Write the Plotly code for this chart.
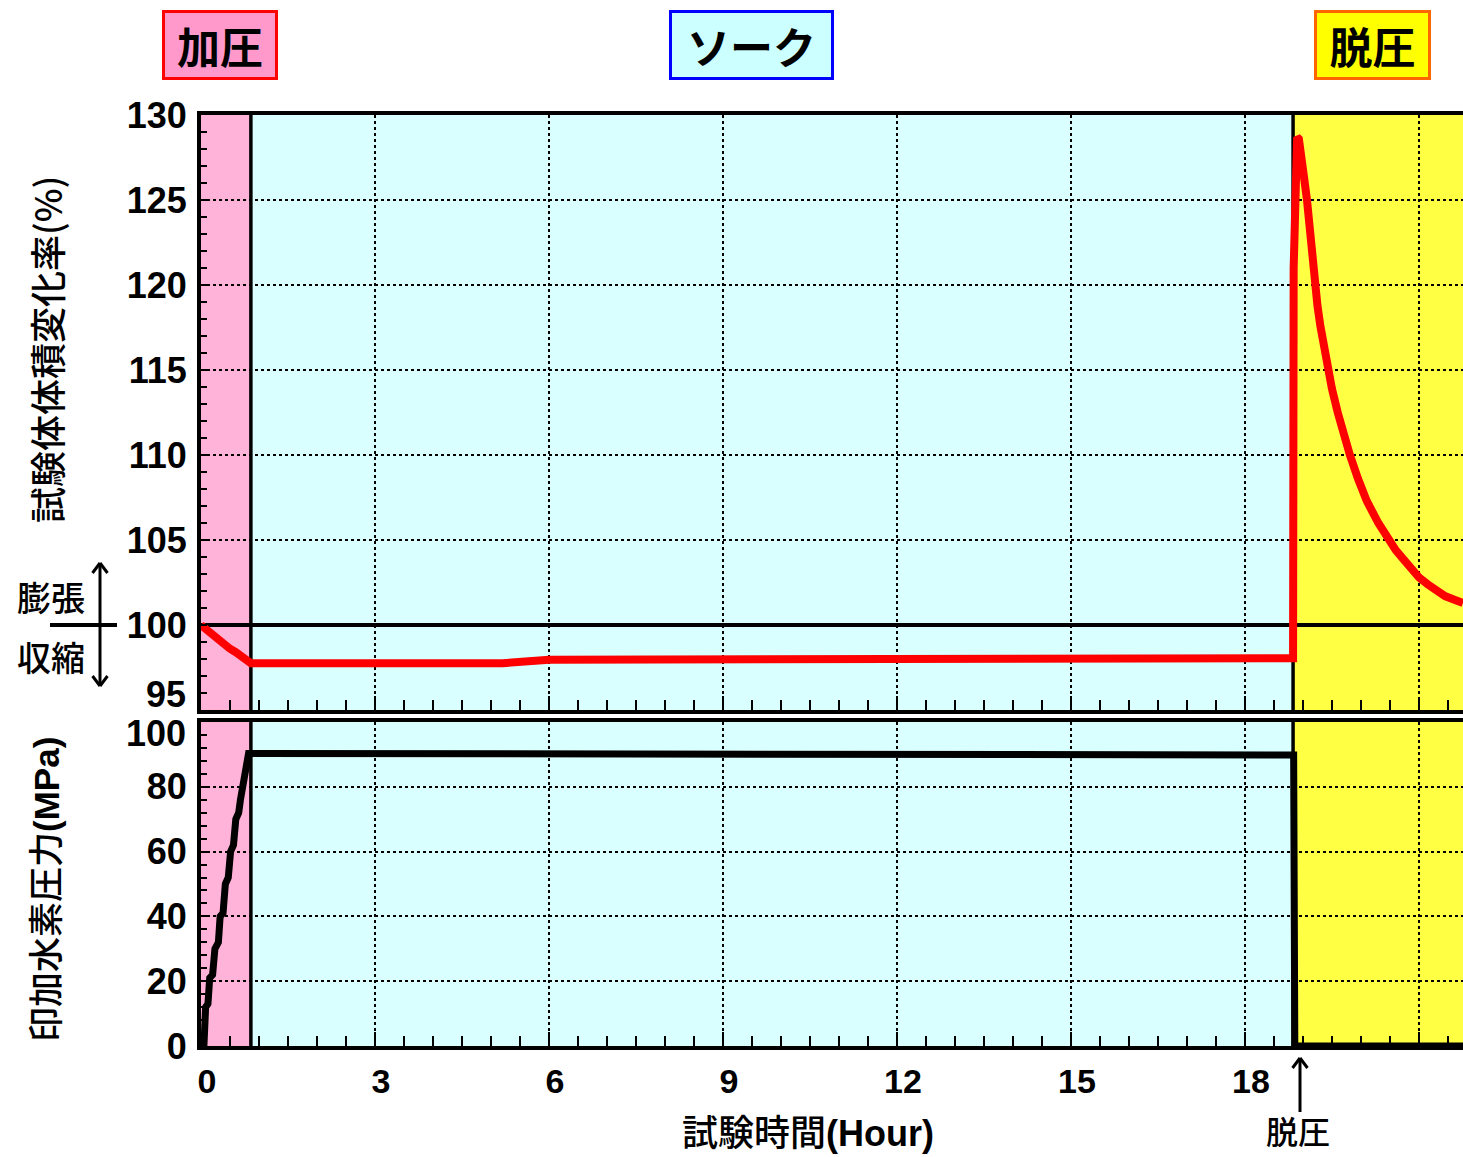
import plotly.graph_objects as go

# ---- data -------------------------------------------------------------
# specimen volume change (%) vs test time (h)
vol_time = [0.0, 0.1, 0.2, 0.3, 0.4, 0.5, 0.6, 0.7, 0.8, 0.86,
            3.0, 5.2, 6.0, 9.0, 13.8, 14.5, 18.0, 18.83,
            18.84, 18.86, 18.88, 18.90, 18.93, 18.97, 19.02, 19.07,
            19.13, 19.20, 19.25, 19.30, 19.36, 19.43, 19.50, 19.60,
            19.70, 19.81, 19.95, 20.10, 20.30, 20.47, 20.60, 20.75,
            20.90, 21.00, 21.15, 21.30, 21.45, 21.60, 21.76]
vol_change = [100.0, 99.7, 99.4, 99.1, 98.9, 98.6, 98.4, 98.1, 97.85, 97.75,
              97.75, 97.75, 97.95, 97.95, 97.95, 98.05, 98.05, 98.05,
              121.0, 124.0, 127.5, 128.7, 128.6, 127.8, 126.3, 125.0,
              122.7, 120.3, 118.8, 117.6, 116.3, 115.0, 113.9, 112.5,
              111.2, 110.0, 108.6, 107.3, 106.0, 105.0, 104.4, 103.8,
              103.2, 102.8, 102.4, 102.0, 101.7, 101.5, 101.3]

# applied hydrogen pressure (MPa) vs test time (h)
p_time = [0.0, 0.05, 0.08, 0.12, 0.15, 0.20, 0.24, 0.30, 0.33, 0.38,
          0.42, 0.47, 0.51, 0.56, 0.60, 0.65, 0.68, 0.72, 0.75, 0.79,
          0.82, 0.86, 10.0, 11.2, 18.83, 18.84, 18.86, 21.76]
p_value = [0, 0, 12, 13, 21, 22, 30, 32, 40, 41,
           50, 52, 60, 62, 70, 72, 76, 80, 81, 88,
           90.3, 90.3, 90.3, 89.8, 89.8, 89.8, 0, 0]

# test phases: start / end time, fill, label, label box style
phase_start = [0.0, 0.86, 18.83]
phase_end = [0.86, 18.83, 21.76]
phase_fill = ["#FFB3D9", "#D9FFFF", "#FFFF44"]
phase_label = ["加圧", "ソーク", "脱圧"]
label_fill = ["#FF99CC", "#CCFFFF", "#FFFF00"]
label_edge = ["#FF0000", "#0000FF", "#FF6600"]

x_ticks = [0, 3, 6, 9, 12, 15, 18, 21]
x_tick_text = ["0", "3", "6", "9", "12", "15", "18", ""]
vol_ticks = [95, 100, 105, 110, 115, 120, 125, 130]
vol_reference = 100
p_ticks = [0, 20, 40, 60, 80, 100]

# ---- figure geometry (pixels) -----------------------------------------
W, H = 1463, 1157
L, R, T, B = 201, 1463, 115, 1046
TOP_BOTTOM = 710
LOW_TOP = 722


def px(x):
    return (x - L) / (R - L)


def py(y):
    return (B - y) / (B - T)


LATIN = "Liberation Sans, Noto Sans CJK JP"
CJK = "Noto Sans CJK JP, Liberation Sans"

fig = go.Figure()

# phase boundary lines in both panels
for xa, ya, lo, hi in (("x", "y", vol_ticks[0], vol_ticks[-1]),
                       ("x2", "y2", p_ticks[0], p_ticks[-1])):
    bx, by = [], []
    for b in phase_start[1:]:
        bx += [b, b, None]
        by += [lo, hi, None]
    fig.add_trace(go.Scatter(x=bx, y=by, mode="lines", xaxis=xa, yaxis=ya,
                             line=dict(color="black", width=3.5),
                             hoverinfo="skip", showlegend=False))

# 100 % reference line
fig.add_trace(go.Scatter(x=[phase_start[0], phase_end[-1]],
                         y=[vol_reference, vol_reference], mode="lines",
                         line=dict(color="black", width=4),
                         xaxis="x", yaxis="y", hoverinfo="skip",
                         showlegend=False))

fig.add_trace(go.Scatter(
    x=vol_time, y=vol_change, mode="lines",
    line=dict(color="#FF0000", width=8), xaxis="x", yaxis="y",
    showlegend=False))
fig.add_trace(go.Scatter(
    x=p_time, y=p_value, mode="lines",
    line=dict(color="#000000", width=7), xaxis="x2", yaxis="y2",
    showlegend=False))

shapes = []
for yref in ("y domain", "y2 domain"):
    for s, e, c in zip(phase_start, phase_end, phase_fill):
        shapes.append(dict(type="rect", xref="x", yref=yref, x0=s, x1=e,
                           y0=0, y1=1, fillcolor=c, line_width=0,
                           layer="below"))

# reference line carried out to the swell / shrink marker
shapes.append(dict(type="line", xref="paper", yref="y", x0=px(50), x1=px(117),
                   y0=vol_reference, y1=vol_reference,
                   line=dict(color="black", width=4)))


def arrow(x, y_tail, y_head, head=10):
    d = 1 if y_head < y_tail else -1
    lw = 3
    return [
        dict(type="line", xref="paper", yref="paper", x0=px(x), x1=px(x),
             y0=py(y_tail), y1=py(y_head), line=dict(color="black", width=lw)),
        dict(type="line", xref="paper", yref="paper", x0=px(x - head * 0.75),
             x1=px(x), y0=py(y_head + d * head), y1=py(y_head),
             line=dict(color="black", width=lw)),
        dict(type="line", xref="paper", yref="paper", x0=px(x + head * 0.75),
             x1=px(x), y0=py(y_head + d * head), y1=py(y_head),
             line=dict(color="black", width=lw)),
    ]


shapes += arrow(100, 624, 563)
shapes += arrow(100, 624, 686)
shapes += arrow(1300, 1112, 1058)

annotations = []


def label(x, y, text, font, **kw):
    d = dict(xref="paper", yref="paper", x=px(x), y=py(y), text=text,
             showarrow=False, xanchor="center", yanchor="middle", font=font)
    d.update(kw)
    annotations.append(d)


# phase label boxes
box_cx = [220, 751.5, 1372.5]
box_w = [110, 159, 111]
for cx, w, t, fc, ec in zip(box_cx, box_w, phase_label, label_fill, label_edge):
    label(cx, 45, t, dict(family=CJK, size=43, color="black", weight="bold"),
          bgcolor=fc, bordercolor=ec, borderwidth=3, borderpad=0,
          width=w, height=64)

# axis titles
label(46, 350, "試験体体積変化率(%)",
      dict(family=CJK, size=36, color="black", weight=500), textangle=-90)
label(46, 890, "印加水素圧力<b>(MPa)</b>",
      dict(family=LATIN, size=35, color="black", weight=500), textangle=-90)
label(808, 1133, "試験時間<b>(Hour)</b>",
      dict(family=LATIN, size=36, color="black", weight=500))

# swell / shrink marks and depressurisation marker
cjk_mark = dict(family=CJK, size=34, color="black", weight=500)
label(51, 596, "膨張", cjk_mark)
label(51, 656, "収縮", cjk_mark)
label(1298, 1130, "脱圧", dict(family=CJK, size=32, color="black", weight=500))

# end-of-range tick labels, nudged apart between the two panels
tickfont = dict(family=LATIN, size=36, color="black", weight="bold")
label(188, 694, str(vol_ticks[0]), tickfont, xanchor="right")
label(188, 733, str(p_ticks[-1]), tickfont, xanchor="right")

grid = dict(showgrid=True, gridcolor="black", gridwidth=2, griddash="dot",
            zeroline=False, showline=True, linecolor="black", linewidth=4)

xcommon = dict(range=[phase_start[0], phase_end[-1]], tickvals=x_ticks,
               ticktext=x_tick_text,
               ticks="inside", ticklen=14, tickwidth=2, tickcolor="black",
               minor=dict(dtick=0.5, tick0=0, ticks="inside", ticklen=10,
                          tickwidth=2, tickcolor="black", showgrid=False),
               mirror=True, **grid)

fig.update_layout(
    width=W, height=H,
    margin=dict(l=L, r=W - R, t=T, b=H - B),
    paper_bgcolor="white", plot_bgcolor="white",
    showlegend=False,
    xaxis=dict(anchor="y", showticklabels=False, **xcommon),
    xaxis2=dict(anchor="y2", matches="x", showticklabels=True,
                tickfont=dict(family=LATIN, size=34, color="black",
                              weight="bold"),
                ticklabelstandoff=2, ticklabelshift=6, **xcommon),
    yaxis=dict(domain=[py(TOP_BOTTOM), 1], range=[vol_ticks[0], vol_ticks[-1]],
               tickvals=vol_ticks[1:], ticks="inside", ticklen=6,
               tickwidth=2, tickcolor="black",
               minor=dict(dtick=1, tick0=95, ticks="inside", ticklen=6,
                          tickwidth=2, tickcolor="black", showgrid=False),
               tickfont=tickfont, ticklabelstandoff=3, **grid),
    yaxis2=dict(domain=[0, py(LOW_TOP)], range=[p_ticks[0], p_ticks[-1]],
                tickvals=p_ticks[:-1], ticks="inside", ticklen=6,
                tickwidth=2, tickcolor="black",
                minor=dict(dtick=4, tick0=0, ticks="inside", ticklen=6,
                           tickwidth=2, tickcolor="black", showgrid=False),
                tickfont=tickfont, ticklabelstandoff=3, **grid),
    shapes=shapes,
    annotations=annotations,
)

fig.write_html("out.html")
